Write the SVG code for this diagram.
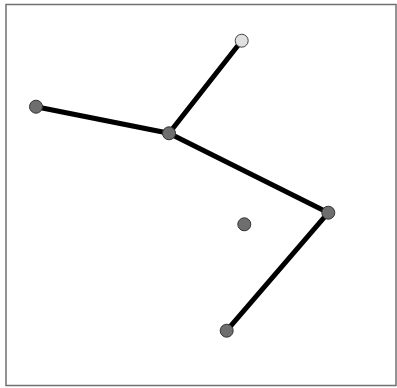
<svg xmlns="http://www.w3.org/2000/svg" width="397" height="388" viewBox="0 0 397 388">
<style>
.edge{stroke:#000;stroke-width:5;stroke-linecap:round;fill:none}
.node{fill:#6e6e6e;stroke:#333;stroke-width:1}
.light{fill:#e0e0e0;stroke:#444;stroke-width:1}
</style>
<rect x="6" y="4.5" width="390" height="381" fill="#fff" stroke="#707070" stroke-width="1.5"/>
<g id="connectors">
<line class="edge" x1="241.7" y1="40.7" x2="169" y2="133.3"/>
<line class="edge" x1="36" y1="106.7" x2="169" y2="133.3"/>
<line class="edge" x1="169" y1="133.3" x2="328.3" y2="212.7"/>
<line class="edge" x1="328.3" y1="212.7" x2="226.7" y2="330.7"/>
</g>
<g id="n-top"><circle class="light" cx="241.7" cy="40.7" r="6.5"/></g>
<g id="n-left"><circle class="node" cx="36" cy="106.7" r="6.5"/></g>
<g id="n-center"><circle class="node" cx="169" cy="133.3" r="6.5"/></g>
<g id="n-right"><circle class="node" cx="328.3" cy="212.7" r="6.5"/></g>
<g id="n-iso"><circle class="node" cx="244.3" cy="224.3" r="6.5"/></g>
<g id="n-bottom"><circle class="node" cx="226.7" cy="330.7" r="6.5"/></g>
</svg>
